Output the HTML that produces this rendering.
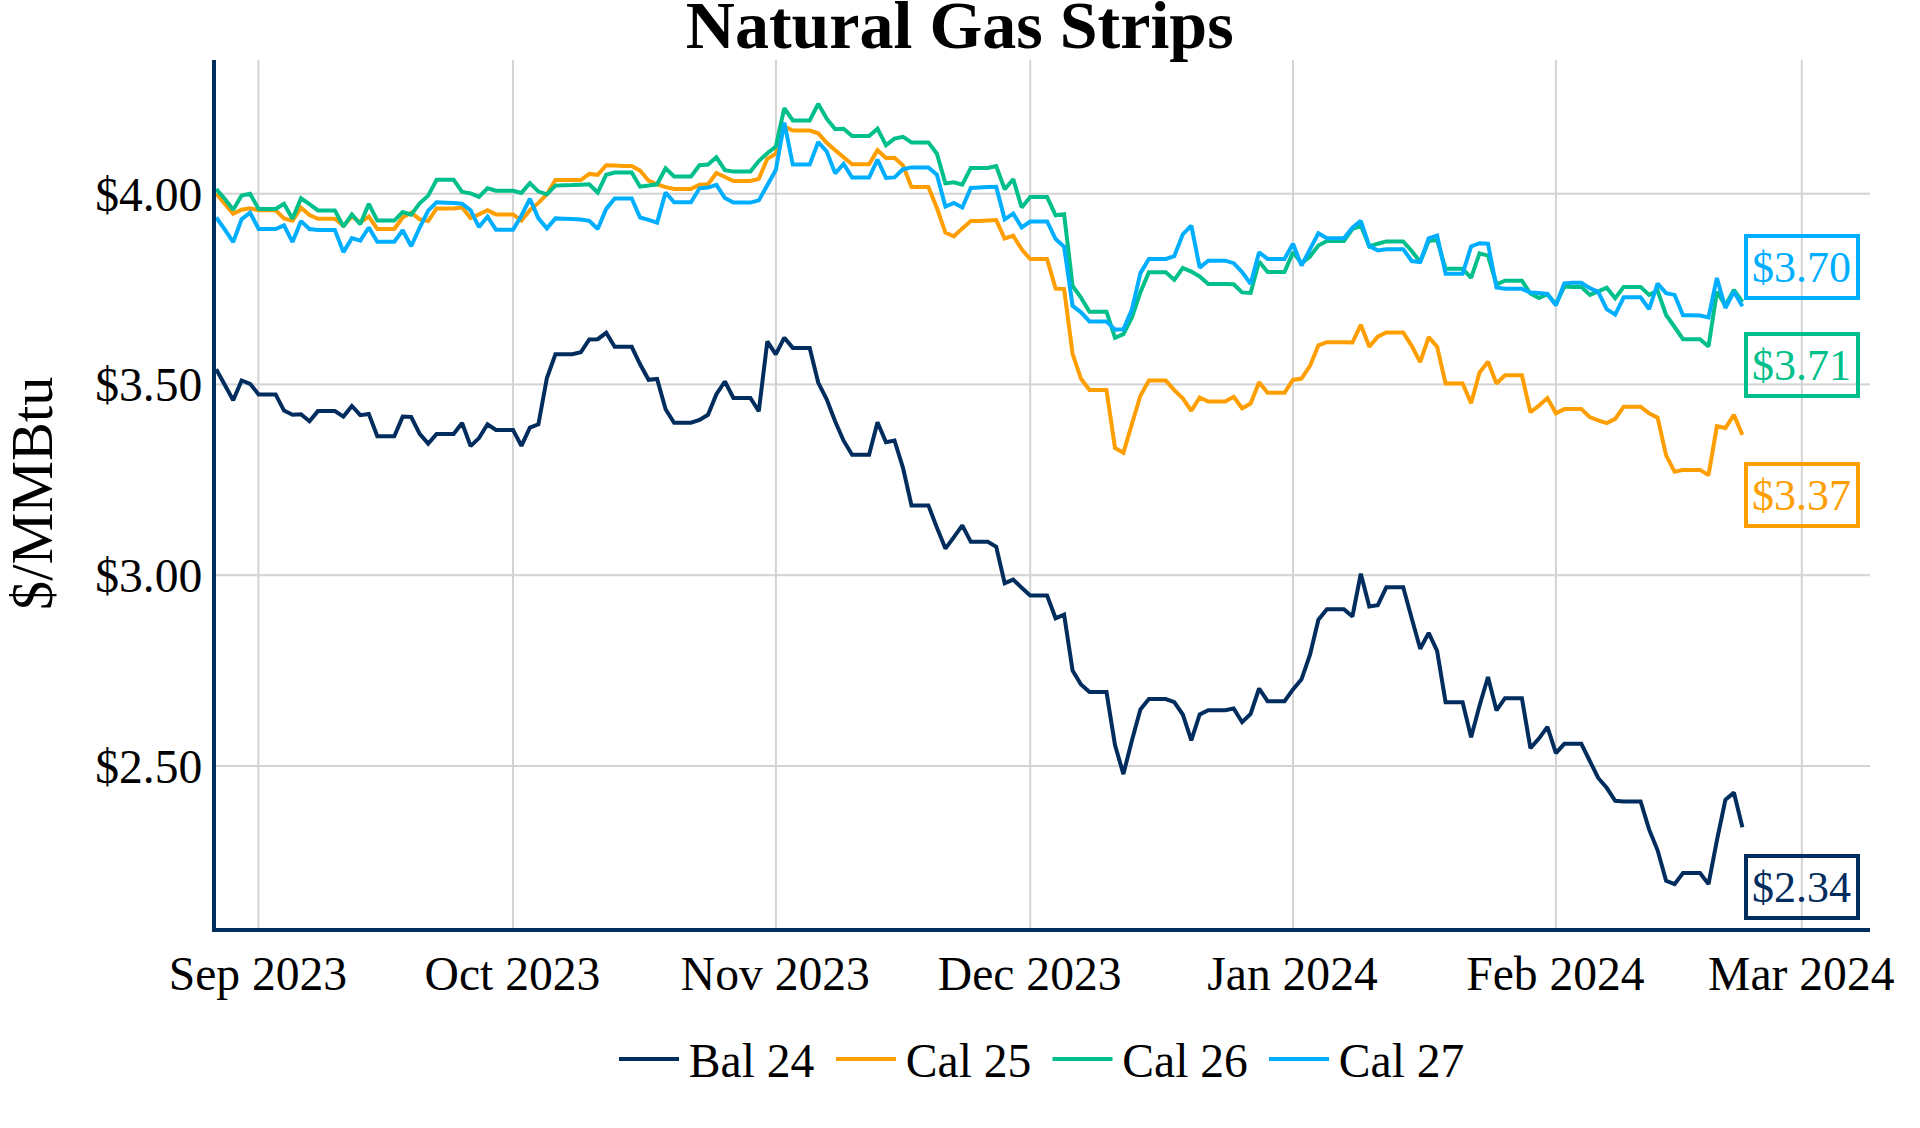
<!DOCTYPE html>
<html><head><meta charset="utf-8"><title>Natural Gas Strips</title>
<style>
html,body{margin:0;padding:0;background:#fff;}
body{width:1920px;height:1128px;overflow:hidden;}
svg{display:block;}
svg text{font-family:"Liberation Serif","Times New Roman",serif;fill:#000;}
</style></head><body>
<svg width="1920" height="1128" viewBox="0 0 1920 1128">
<rect width="1920" height="1128" fill="#fff"/>
<g><rect x="257.4" y="60" width="2" height="868" fill="#d3d3d3"/><rect x="512.0" y="60" width="2" height="868" fill="#d3d3d3"/><rect x="774.9" y="60" width="2" height="868" fill="#d3d3d3"/><rect x="1029.2" y="60" width="2" height="868" fill="#d3d3d3"/><rect x="1292.0" y="60" width="2" height="868" fill="#d3d3d3"/><rect x="1554.9" y="60" width="2" height="868" fill="#d3d3d3"/><rect x="1800.8" y="60" width="2" height="868" fill="#d3d3d3"/><rect x="216" y="192.7" width="1654" height="2" fill="#d3d3d3"/><rect x="216" y="383.4" width="1654" height="2" fill="#d3d3d3"/><rect x="216" y="574.2" width="1654" height="2" fill="#d3d3d3"/><rect x="216" y="765.0" width="1654" height="2" fill="#d3d3d3"/></g>
<g>
<path d="M216.2,369.2 L224.7,384.7 L233.2,400.2 L241.6,380.5 L250.1,383.8 L258.6,394.4 L267.1,394.4 L275.6,394.4 L284.0,410.6 L292.5,414.8 L301.0,414.2 L309.5,421.2 L317.9,411.1 L326.4,411.1 L334.9,411.1 L343.4,416.6 L351.9,406.0 L360.3,415.2 L368.8,413.9 L377.3,436.3 L385.8,436.3 L394.3,436.3 L402.7,416.6 L411.2,417.0 L419.7,433.9 L428.2,443.6 L436.6,433.9 L445.1,433.9 L453.6,433.9 L462.1,423.0 L470.6,446.1 L479.0,438.1 L487.5,424.3 L496.0,429.9 L504.5,429.9 L513.0,429.9 L521.4,445.8 L529.9,427.6 L538.4,424.3 L546.9,378.0 L555.4,354.3 L563.8,354.3 L572.3,354.3 L580.8,352.3 L589.3,339.5 L597.7,339.2 L606.2,332.8 L614.7,346.8 L623.2,346.8 L631.7,346.8 L640.1,364.3 L648.6,379.8 L657.1,378.9 L665.6,409.3 L674.1,422.7 L682.5,422.7 L691.0,422.7 L699.5,419.9 L708.0,414.8 L716.4,394.2 L724.9,381.5 L733.4,397.9 L741.9,397.9 L750.4,397.9 L758.8,411.2 L767.3,341.4 L775.8,354.3 L784.3,337.7 L792.8,347.9 L801.2,347.9 L809.7,347.9 L818.2,382.6 L826.7,399.3 L835.2,421.5 L843.6,440.7 L852.1,454.7 L860.6,454.7 L869.1,454.7 L877.5,422.2 L886.0,442.3 L894.5,440.5 L903.0,467.8 L911.5,505.4 L919.9,505.4 L928.4,505.4 L936.9,527.6 L945.4,548.6 L953.9,537.1 L962.3,525.4 L970.8,541.8 L979.3,541.8 L987.8,541.8 L996.2,546.7 L1004.7,583.2 L1013.2,579.6 L1021.7,587.8 L1030.2,595.4 L1038.6,595.4 L1047.1,595.5 L1055.6,618.3 L1064.1,614.6 L1072.6,670.6 L1081.0,684.5 L1089.5,692.1 L1098.0,692.1 L1106.5,692.1 L1115.0,745.0 L1123.4,774.1 L1131.9,740.4 L1140.4,709.4 L1148.9,699.0 L1157.3,699.0 L1165.8,699.0 L1174.3,702.1 L1182.8,714.5 L1191.3,740.4 L1199.7,714.5 L1208.2,710.2 L1216.7,710.2 L1225.2,710.2 L1233.7,708.5 L1242.1,722.2 L1250.6,714.0 L1259.1,688.5 L1267.6,701.2 L1276.0,701.2 L1284.5,701.2 L1293.0,689.4 L1301.5,679.3 L1310.0,654.7 L1318.4,619.7 L1326.9,609.2 L1335.4,609.2 L1343.9,609.2 L1352.4,616.5 L1360.8,573.7 L1369.3,606.5 L1377.8,605.2 L1386.3,587.3 L1394.8,587.3 L1403.2,587.3 L1411.7,618.3 L1420.2,648.8 L1428.7,632.9 L1437.1,650.8 L1445.6,702.2 L1454.1,702.2 L1462.6,702.2 L1471.1,737.2 L1479.5,705.8 L1488.0,677.0 L1496.5,710.4 L1505.0,698.2 L1513.5,698.2 L1521.9,698.2 L1530.4,748.1 L1538.9,738.6 L1547.4,726.8 L1555.9,753.2 L1564.3,743.8 L1572.8,743.7 L1581.3,743.7 L1589.8,761.0 L1598.2,778.0 L1606.7,787.8 L1615.2,800.8 L1623.7,801.5 L1632.2,801.5 L1640.6,801.5 L1649.1,829.4 L1657.6,850.3 L1666.1,880.8 L1674.6,884.1 L1683.0,873.1 L1691.5,873.1 L1700.0,873.1 L1708.5,884.1 L1716.9,840.3 L1725.4,799.8 L1733.9,792.6 L1742.4,827.2" fill="none" stroke="#012d5e" stroke-width="4" stroke-linejoin="miter" stroke-miterlimit="1.75"/>
<path d="M216.2,193.5 L224.7,203.8 L233.2,213.8 L241.6,209.8 L250.1,208.4 L258.6,210.2 L267.1,210.2 L275.6,210.2 L284.0,218.4 L292.5,220.6 L301.0,207.8 L309.5,215.1 L317.9,218.8 L326.4,218.8 L334.9,218.8 L343.4,225.7 L351.9,216.6 L360.3,222.4 L368.8,216.6 L377.3,229.0 L385.8,229.0 L394.3,229.0 L402.7,217.5 L411.2,212.6 L419.7,219.3 L428.2,221.1 L436.6,208.4 L445.1,208.4 L453.6,208.4 L462.1,207.4 L470.6,218.0 L479.0,214.4 L487.5,210.2 L496.0,214.4 L504.5,214.4 L513.0,214.4 L521.4,220.6 L529.9,210.2 L538.4,202.9 L546.9,194.3 L555.4,180.1 L563.8,180.1 L572.3,180.1 L580.8,180.1 L589.3,173.9 L597.7,174.8 L606.2,165.2 L614.7,165.5 L623.2,166.1 L631.7,166.1 L640.1,170.7 L648.6,180.7 L657.1,184.3 L665.6,187.1 L674.1,188.9 L682.5,188.9 L691.0,188.9 L699.5,184.7 L708.0,184.3 L716.4,173.0 L724.9,177.0 L733.4,181.0 L741.9,181.0 L750.4,181.0 L758.8,178.9 L767.3,158.8 L775.8,153.7 L784.3,126.4 L792.8,130.5 L801.2,130.5 L809.7,130.5 L818.2,133.3 L826.7,142.8 L835.2,150.2 L843.6,157.3 L852.1,164.3 L860.6,164.3 L869.1,164.3 L877.5,150.2 L886.0,157.9 L894.5,157.7 L903.0,165.5 L911.5,186.9 L919.9,186.9 L928.4,186.9 L936.9,208.0 L945.4,232.6 L953.9,236.3 L962.3,228.4 L970.8,221.1 L979.3,221.1 L987.8,220.6 L996.2,220.1 L1004.7,238.5 L1013.2,235.7 L1021.7,249.4 L1030.2,259.1 L1038.6,259.1 L1047.1,259.1 L1055.6,288.6 L1064.1,289.1 L1072.6,353.8 L1081.0,378.8 L1089.5,389.9 L1098.0,389.9 L1106.5,389.9 L1115.0,448.0 L1123.4,452.8 L1131.9,424.0 L1140.4,395.7 L1148.9,380.6 L1157.3,380.6 L1165.8,380.6 L1174.3,390.2 L1182.8,398.4 L1191.3,410.8 L1199.7,397.5 L1208.2,401.5 L1216.7,401.5 L1225.2,401.5 L1233.7,396.8 L1242.1,408.3 L1250.6,403.6 L1259.1,382.3 L1267.6,392.7 L1276.0,392.7 L1284.5,392.7 L1293.0,379.9 L1301.5,378.6 L1310.0,365.9 L1318.4,345.3 L1326.9,342.2 L1335.4,342.2 L1343.9,342.3 L1352.4,342.5 L1360.8,324.8 L1369.3,346.7 L1377.8,336.7 L1386.3,332.5 L1394.8,332.5 L1403.2,332.5 L1411.7,345.8 L1420.2,362.2 L1428.7,337.1 L1437.1,346.7 L1445.6,383.5 L1454.1,383.5 L1462.6,383.5 L1471.1,403.2 L1479.5,372.6 L1488.0,361.7 L1496.5,383.5 L1505.0,375.3 L1513.5,375.3 L1521.9,375.3 L1530.4,412.3 L1538.9,405.6 L1547.4,398.1 L1555.9,413.3 L1564.3,409.1 L1572.8,409.1 L1581.3,409.1 L1589.8,417.1 L1598.2,420.4 L1606.7,423.1 L1615.2,418.9 L1623.7,406.7 L1632.2,406.7 L1640.6,406.7 L1649.1,413.4 L1657.6,417.6 L1666.1,455.4 L1674.6,471.8 L1683.0,469.9 L1691.5,469.9 L1700.0,469.9 L1708.5,475.1 L1716.9,426.2 L1725.4,428.0 L1733.9,414.9 L1742.4,434.9" fill="none" stroke="#ff9e00" stroke-width="4" stroke-linejoin="miter" stroke-miterlimit="1.75"/>
<path d="M216.2,189.2 L224.7,198.7 L233.2,209.7 L241.6,195.6 L250.1,193.8 L258.6,208.9 L267.1,208.9 L275.6,208.9 L284.0,203.8 L292.5,218.8 L301.0,198.3 L309.5,204.2 L317.9,210.4 L326.4,210.4 L334.9,210.4 L343.4,226.6 L351.9,214.4 L360.3,224.2 L368.8,203.8 L377.3,220.6 L385.8,220.6 L394.3,220.6 L402.7,212.0 L411.2,214.7 L419.7,203.4 L428.2,195.6 L436.6,179.7 L445.1,179.7 L453.6,179.7 L462.1,192.0 L470.6,193.4 L479.0,196.9 L487.5,188.3 L496.0,190.7 L504.5,190.7 L513.0,190.7 L521.4,192.9 L529.9,183.2 L538.4,191.6 L546.9,194.3 L555.4,185.6 L563.8,185.2 L572.3,185.1 L580.8,184.7 L589.3,184.3 L597.7,192.5 L606.2,174.7 L614.7,172.5 L623.2,172.5 L631.7,172.5 L640.1,186.7 L648.6,185.6 L657.1,184.3 L665.6,168.3 L674.1,176.5 L682.5,176.5 L691.0,176.5 L699.5,165.2 L708.0,164.6 L716.4,157.3 L724.9,170.1 L733.4,171.6 L741.9,171.6 L750.4,171.6 L758.8,161.0 L767.3,153.3 L775.8,146.6 L784.3,108.1 L792.8,120.5 L801.2,120.5 L809.7,120.5 L818.2,103.8 L826.7,118.7 L835.2,129.3 L843.6,128.7 L852.1,136.0 L860.6,136.0 L869.1,136.0 L877.5,128.7 L886.0,145.1 L894.5,138.6 L903.0,136.9 L911.5,142.4 L919.9,142.4 L928.4,142.4 L936.9,153.7 L945.4,183.4 L953.9,182.3 L962.3,184.7 L970.8,167.9 L979.3,167.9 L987.8,167.9 L996.2,166.1 L1004.7,189.2 L1013.2,179.2 L1021.7,207.5 L1030.2,197.1 L1038.6,197.1 L1047.1,197.1 L1055.6,215.3 L1064.1,214.2 L1072.6,285.9 L1081.0,297.7 L1089.5,311.7 L1098.0,311.7 L1106.5,311.7 L1115.0,337.8 L1123.4,334.2 L1131.9,317.4 L1140.4,292.2 L1148.9,272.2 L1157.3,272.2 L1165.8,272.2 L1174.3,279.8 L1182.8,268.0 L1191.3,271.6 L1199.7,276.4 L1208.2,284.0 L1216.7,284.0 L1225.2,284.0 L1233.7,284.2 L1242.1,292.4 L1250.6,292.9 L1259.1,261.6 L1267.6,272.0 L1276.0,272.0 L1284.5,272.0 L1293.0,252.3 L1301.5,263.1 L1310.0,256.5 L1318.4,245.5 L1326.9,241.0 L1335.4,241.0 L1343.9,241.0 L1352.4,229.1 L1360.8,225.5 L1369.3,246.5 L1377.8,243.7 L1386.3,241.4 L1394.8,241.4 L1403.2,241.4 L1411.7,251.0 L1420.2,262.0 L1428.7,241.0 L1437.1,240.1 L1445.6,268.7 L1454.1,268.7 L1462.6,268.7 L1471.1,277.8 L1479.5,253.4 L1488.0,255.6 L1496.5,284.4 L1505.0,280.7 L1513.5,280.7 L1521.9,280.7 L1530.4,293.5 L1538.9,298.0 L1547.4,294.2 L1555.9,304.4 L1564.3,286.6 L1572.8,286.9 L1581.3,286.9 L1589.8,294.9 L1598.2,291.3 L1606.7,287.7 L1615.2,298.2 L1623.7,286.9 L1632.2,286.9 L1640.6,286.9 L1649.1,294.9 L1657.6,290.6 L1666.1,315.0 L1674.6,327.0 L1683.0,339.2 L1691.5,339.2 L1700.0,339.2 L1708.5,346.5 L1716.9,291.8 L1725.4,305.5 L1733.9,290.0 L1742.4,301.9" fill="none" stroke="#00bf8a" stroke-width="4" stroke-linejoin="miter" stroke-miterlimit="1.75"/>
<path d="M216.2,217.5 L224.7,229.3 L233.2,242.1 L241.6,219.3 L250.1,212.6 L258.6,229.0 L267.1,229.0 L275.6,229.0 L284.0,225.3 L292.5,242.1 L301.0,221.1 L309.5,229.0 L317.9,230.1 L326.4,230.1 L334.9,230.1 L343.4,252.1 L351.9,238.1 L360.3,240.6 L368.8,227.5 L377.3,241.7 L385.8,241.7 L394.3,241.7 L402.7,230.2 L411.2,246.3 L419.7,227.5 L428.2,210.7 L436.6,202.3 L445.1,202.7 L453.6,203.1 L462.1,203.8 L470.6,210.2 L479.0,227.1 L487.5,216.6 L496.0,229.7 L504.5,229.7 L513.0,229.7 L521.4,215.7 L529.9,198.7 L538.4,218.4 L546.9,228.4 L555.4,218.4 L563.8,218.8 L572.3,219.1 L580.8,219.5 L589.3,220.8 L597.7,229.0 L606.2,208.9 L614.7,198.4 L623.2,198.4 L631.7,198.4 L640.1,217.5 L648.6,219.9 L657.1,222.6 L665.6,192.5 L674.1,202.2 L682.5,202.2 L691.0,202.2 L699.5,188.3 L708.0,187.6 L716.4,184.9 L724.9,198.0 L733.4,202.6 L741.9,202.6 L750.4,202.6 L758.8,200.4 L767.3,185.2 L775.8,170.1 L784.3,122.7 L792.8,164.6 L801.2,164.6 L809.7,164.6 L818.2,142.0 L826.7,151.5 L835.2,173.4 L843.6,163.9 L852.1,177.6 L860.6,177.6 L869.1,177.6 L877.5,159.7 L886.0,177.9 L894.5,177.4 L903.0,169.2 L911.5,167.4 L919.9,167.4 L928.4,167.4 L936.9,174.7 L945.4,206.6 L953.9,202.9 L962.3,207.5 L970.8,188.0 L979.3,187.4 L987.8,187.1 L996.2,186.9 L1004.7,219.3 L1013.2,213.5 L1021.7,227.5 L1030.2,221.5 L1038.6,221.5 L1047.1,221.5 L1055.6,239.0 L1064.1,246.7 L1072.6,305.9 L1081.0,312.3 L1089.5,321.4 L1098.0,321.4 L1106.5,321.4 L1115.0,329.6 L1123.4,329.2 L1131.9,309.6 L1140.4,273.1 L1148.9,258.9 L1157.3,258.9 L1165.8,258.9 L1174.3,256.1 L1182.8,234.3 L1191.3,225.7 L1199.7,267.6 L1208.2,260.7 L1216.7,260.7 L1225.2,260.7 L1233.7,263.2 L1242.1,272.0 L1250.6,283.8 L1259.1,252.3 L1267.6,258.9 L1276.0,258.9 L1284.5,258.9 L1293.0,243.7 L1301.5,265.6 L1310.0,249.2 L1318.4,233.3 L1326.9,238.3 L1335.4,238.3 L1343.9,238.3 L1352.4,227.7 L1360.8,220.9 L1369.3,246.1 L1377.8,250.5 L1386.3,249.2 L1394.8,249.2 L1403.2,249.2 L1411.7,261.0 L1420.2,262.0 L1428.7,238.3 L1437.1,235.5 L1445.6,273.8 L1454.1,273.8 L1462.6,273.8 L1471.1,246.5 L1479.5,243.2 L1488.0,243.7 L1496.5,287.5 L1505.0,288.8 L1513.5,288.8 L1521.9,288.8 L1530.4,292.6 L1538.9,292.9 L1547.4,293.9 L1555.9,305.2 L1564.3,283.3 L1572.8,282.7 L1581.3,282.7 L1589.8,288.2 L1598.2,291.8 L1606.7,309.2 L1615.2,314.6 L1623.7,297.3 L1632.2,297.3 L1640.6,297.3 L1649.1,309.2 L1657.6,283.6 L1666.1,293.1 L1674.6,294.9 L1683.0,315.2 L1691.5,315.2 L1700.0,315.5 L1708.5,317.4 L1716.9,278.0 L1725.4,308.0 L1733.9,291.8 L1742.4,306.3" fill="none" stroke="#00aeff" stroke-width="4" stroke-linejoin="miter" stroke-miterlimit="1.75"/>
</g>
<rect x="212" y="60" width="4" height="872" fill="#012d5e"/>
<rect x="212" y="928" width="1658" height="4" fill="#012d5e"/>
<g><text x="202.3" y="210.6" text-anchor="end" font-size="47.6">$4.00</text><text x="202.3" y="401.3" text-anchor="end" font-size="47.6">$3.50</text><text x="202.3" y="592.1" text-anchor="end" font-size="47.6">$3.00</text><text x="202.3" y="782.9" text-anchor="end" font-size="47.6">$2.50</text></g>
<g><text x="257.9" y="989.9" text-anchor="middle" font-size="47.6">Sep 2023</text><text x="512.5" y="989.9" text-anchor="middle" font-size="47.6">Oct 2023</text><text x="775.4" y="989.9" text-anchor="middle" font-size="47.6">Nov 2023</text><text x="1029.7" y="989.9" text-anchor="middle" font-size="47.6">Dec 2023</text><text x="1292.5" y="989.9" text-anchor="middle" font-size="47.6">Jan 2024</text><text x="1555.4" y="989.9" text-anchor="middle" font-size="47.6">Feb 2024</text><text x="1801.3" y="989.9" text-anchor="middle" font-size="47.6">Mar 2024</text></g>
<text x="959.7" y="48.4" text-anchor="middle" font-size="68" font-weight="bold">Natural Gas Strips</text>
<text transform="translate(51.8,493.3) rotate(-90)" text-anchor="middle" font-size="58.3">$/MMBtu</text>
<g><rect x="1746" y="236" width="112" height="62" fill="none" stroke="#00aeff" stroke-width="4"/><text x="1801.5" y="281.8" text-anchor="middle" font-size="44" style="fill:#00aeff">$3.70</text><rect x="1746" y="334" width="112" height="62" fill="none" stroke="#00bf8a" stroke-width="4"/><text x="1801.5" y="379.8" text-anchor="middle" font-size="44" style="fill:#00bf8a">$3.71</text><rect x="1746" y="464" width="112" height="62" fill="none" stroke="#ff9e00" stroke-width="4"/><text x="1801.5" y="509.8" text-anchor="middle" font-size="44" style="fill:#ff9e00">$3.37</text><rect x="1746" y="856" width="112" height="62" fill="none" stroke="#012d5e" stroke-width="4"/><text x="1801.5" y="901.8" text-anchor="middle" font-size="44" style="fill:#012d5e">$2.34</text></g>
<g><rect x="619" y="1057" width="60" height="4" fill="#012d5e"/><text x="688.8" y="1077.4" font-size="47.6">Bal 24</text><rect x="836" y="1057" width="60" height="4" fill="#ff9e00"/><text x="905.8" y="1077.4" font-size="47.6">Cal 25</text><rect x="1052.5" y="1057" width="60" height="4" fill="#00bf8a"/><text x="1122.3" y="1077.4" font-size="47.6">Cal 26</text><rect x="1269" y="1057" width="60" height="4" fill="#00aeff"/><text x="1338.8" y="1077.4" font-size="47.6">Cal 27</text></g>
</svg>
</body></html>
